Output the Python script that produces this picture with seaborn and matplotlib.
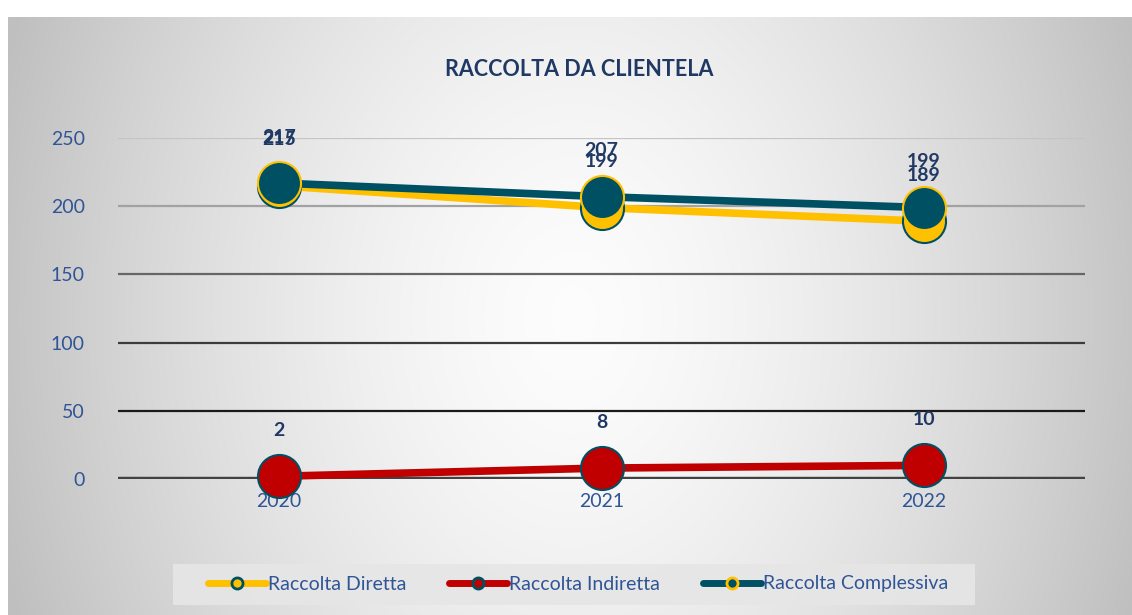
import numpy as np
import pandas as pd
import matplotlib
matplotlib.use("Agg")
import matplotlib.pyplot as plt
import seaborn as sns
from matplotlib.lines import Line2D
from matplotlib.patches import Rectangle

# Data
years = ["2020", "2021", "2022"]
diretta = [215, 199, 189]
indiretta = [2, 8, 10]
complessiva = [217, 207, 199]

sns.set_theme(style="white")
plt.rcParams['font.family'] = ['Lato', 'DejaVu Sans']

W, H = 1132, 615
fig = plt.figure(figsize=(W / 100, H / 100), dpi=100)
fig.patch.set_facecolor("white")

# radial gradient background of the chart frame
bg = fig.add_axes([8 / W, 0, 1 - 8 / W, 1 - 17 / H])
bg.set_axis_off()
yy, xx = np.mgrid[0:600, 0:1124]
d = np.sqrt(((xx - 565) / 600) ** 2 + ((yy - 300) / 800) ** 2)
g = np.clip(0.99 - 0.24 * d ** 1.5, 0.75, 1)
bg.imshow(np.dstack([g, g, g]), aspect="auto", interpolation="bilinear")
bg.set_zorder(-1)

ax = fig.add_axes([118 / W, 1 - 479 / H, (1085 - 118) / W, (479 - 138) / H])
ax.patch.set_alpha(0)

df = pd.DataFrame({"Anno": years, "Diretta": diretta, "Indiretta": indiretta,
                   "Complessiva": complessiva})

yellow = "#FFC000"
red = "#C00000"
teal = "#005064"
label_col = "#1F3864"
tick_col = "#2F5597"

# gridlines (varying tones as in reference)
grid_cols = {250: "#c4c4c4", 200: "#a2a2a2", 150: "#666666", 100: "#3c3c3c", 50: "#1a1a1a"}
for v, c in grid_cols.items():
    ax.axhline(v, color=c, lw=1.6, zorder=0)
ax.axhline(0, color="#424242", lw=3.2, zorder=0)

ms = 31
lw = 5.5
sns.lineplot(data=df, x="Anno", y="Diretta", ax=ax, color=yellow, lw=lw, marker="o",
             markersize=ms, markerfacecolor=yellow, markeredgecolor=teal,
             markeredgewidth=1.5, clip_on=False, zorder=3)
sns.lineplot(data=df, x="Anno", y="Indiretta", ax=ax, color=red, lw=lw, marker="o",
             markersize=ms, markerfacecolor=red, markeredgecolor=teal,
             markeredgewidth=1.5, clip_on=False, zorder=3)
sns.lineplot(data=df, x="Anno", y="Complessiva", ax=ax, color=teal, lw=lw, marker="o",
             markersize=ms, markerfacecolor=teal, markeredgecolor=yellow,
             markeredgewidth=1.5, clip_on=False, zorder=4)

# data labels
for series in [diretta, indiretta, complessiva]:
    for i, v in enumerate(series):
        ax.annotate(str(v), (i, v), xytext=(0, 33), textcoords="offset points",
                    ha="center", va="center", fontsize=14, fontweight="bold",
                    color=label_col, zorder=6)

ax.set_xlim(-0.5, 2.5)
ax.set_ylim(0, 250)
ax.set_yticks([0, 50, 100, 150, 200, 250])
ax.set_xlabel("")
ax.set_ylabel("")
for s in ax.spines.values():
    s.set_visible(False)
ax.tick_params(axis="both", length=0, labelsize=14, colors=tick_col)
ax.tick_params(axis="x", pad=10)
ax.tick_params(axis="y", pad=24)

fig.text(579 / W, 1 - 70 / H, "RACCOLTA DA CLIENTELA", ha="center", va="center",
         fontsize=15.5, fontweight="bold", color=label_col)

# legend box
fig.patches.append(Rectangle((173 / W, 1 - 605 / H), (975 - 173) / W, 41 / H,
                             transform=fig.transFigure, facecolor="#e6e6e6",
                             edgecolor="none", alpha=0.9, zorder=0))

handles = [
    Line2D([], [], color=yellow, lw=5, marker="o", markersize=8,
           markerfacecolor=yellow, markeredgecolor=teal, markeredgewidth=2),
    Line2D([], [], color=red, lw=5, marker="o", markersize=8,
           markerfacecolor=red, markeredgecolor=teal, markeredgewidth=2),
    Line2D([], [], color=teal, lw=5, marker="o", markersize=8,
           markerfacecolor=teal, markeredgecolor=yellow, markeredgewidth=2),
]
leg = fig.legend(handles, ["Raccolta Diretta", "Raccolta Indiretta", "Raccolta Complessiva"],
                 loc="center", bbox_to_anchor=(578 / W, 1 - 584 / H), ncol=3,
                 frameon=False, fontsize=14, handlelength=3.0, handletextpad=0.1,
                 columnspacing=2.2, borderaxespad=0)
for t in leg.get_texts():
    t.set_color(tick_col)

fig.savefig("out.png", dpi=100)
